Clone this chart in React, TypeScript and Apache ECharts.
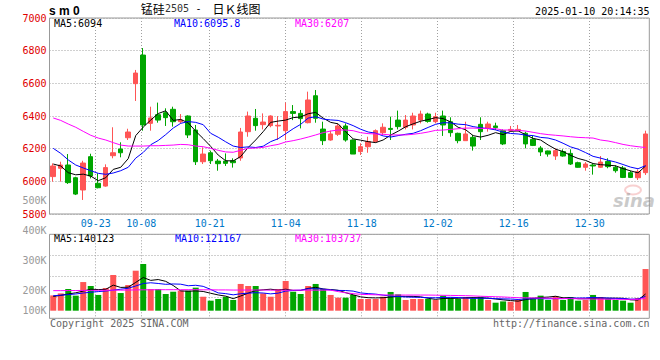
import React, { useEffect, useRef } from 'react';
import * as echarts from 'echarts';

// ---------- data ----------
const dates = ['09-11','09-12','09-13','09-18','09-19','09-20','09-23','09-24','09-25','09-26','09-27','09-30','10-08','10-09','10-10','10-11','10-14','10-15','10-16','10-17','10-18','10-21','10-22','10-23','10-24','10-25','10-28','10-29','10-30','10-31','11-01','11-04','11-05','11-06','11-07','11-08','11-11','11-12','11-13','11-14','11-15','11-18','11-19','11-20','11-21','11-22','11-25','11-26','11-27','11-28','11-29','12-02','12-03','12-04','12-05','12-06','12-09','12-10','12-11','12-12','12-13','12-16','12-17','12-18','12-19','12-20','12-23','12-24','12-25','12-26','12-27','12-30','12-31','01-02','01-03','01-06','01-07','01-08','01-09','01-10'];
const labelDates = ['09-23','10-08','10-21','11-04','11-18','12-02','12-16','12-30'];

const open = [6029,6080,6100,6022,5947,6151,5988,5971,6157,6198, 6267,6598,6773,6355,6408,6420,6441,6365,6400,6314, 6120,6175,6124,6124,6126,6143,6304,6386,6347,6341, 6339,6310,6427,6416,6359,6524,6320,6253,6288,6339, 6253,6182,6212,6243,6298,6324,6375,6331,6345,6375, 6412,6365,6400,6365,6294,6249,6269,6349,6324,6339, 6310,6312,6310,6294,6257,6204,6186,6155,6182,6171, 6114,6086,6100,6086,6122,6086,6082,6053,6022,6053];
const close = [6094,6100,5992,5922,6112,6033,5961,6084,6175,6175, 6302,6663,6345,6388,6375,6390,6365,6375,6284,6120, 6167,6126,6108,6110,6114,6302,6400,6341,6363,6400, 6343,6427,6416,6384,6498,6386,6249,6290,6339,6253, 6167,6212,6243,6310,6331,6318,6335,6375,6400,6412, 6367,6396,6345,6298,6249,6290,6216,6304,6351,6329, 6229,6318,6318,6229,6220,6180,6167,6188,6155,6106, 6086,6106,6094,6118,6090,6065,6024,6024,6059,6290];
const low = [5998,5998,5984,5916,5886,6018,5957,5967,6141,6147, 6253,6492,6310,6310,6359,6339,6335,6355,6265,6100, 6106,6106,6065,6094,6084,6126,6273,6310,6318,6331, 6253,6253,6375,6324,6355,6359,6222,6249,6278,6243, 6167,6161,6175,6237,6284,6253,6318,6318,6318,6355, 6359,6355,6278,6273,6233,6249,6188,6253,6304,6314, 6222,6304,6306,6202,6216,6155,6151,6131,6151,6100, 6084,6065,6041,6082,6080,6053,6020,6020,6008,6039];
const high = [6110,6120,6167,6028,6126,6169,6049,6104,6331,6239, 6322,6682,6816,6457,6482,6447,6457,6412,6404,6345, 6208,6188,6137,6171,6141,6327,6427,6443,6416,6404, 6400,6482,6467,6437,6549,6559,6365,6310,6351,6355, 6257,6233,6273,6318,6355,6396,6433,6406,6420,6433, 6420,6420,6433,6392,6298,6365,6284,6392,6365,6359, 6318,6339,6345,6304,6278,6216,6188,6202,6196,6196, 6120,6118,6110,6155,6141,6098,6094,6065,6073,6310];

const ma5 = [6106,6094,6053,6040,6044,6032,6004,6022,6073,6086, 6139,6280,6332,6375,6415,6432,6373,6379,6358,6307, 6262,6214,6161,6126,6125,6152,6207,6253,6304,6361, 6369,6375,6390,6394,6414,6422,6387,6361,6352,6303, 6260,6252,6243,6237,6253,6283,6307,6334,6352,6368, 6378,6390,6384,6364,6331,6316,6280,6271,6282,6298, 6286,6306,6309,6285,6263,6253,6223,6197,6182,6159, 6140,6128,6109,6102,6099,6095,6078,6064,6052,6094];
const ma10 = [6202,6171,6131,6100,6082,6065,6049,6043,6051,6065, 6086,6142,6177,6224,6250,6286,6326,6355,6366,6361, 6347,6294,6270,6242,6216,6207,6211,6207,6215,6243, 6261,6291,6322,6349,6387,6396,6381,6376,6373,6359, 6341,6319,6302,6295,6278,6271,6280,6288,6294,6310, 6330,6349,6359,6358,6350,6347,6335,6328,6323,6315, 6301,6293,6290,6283,6280,6269,6265,6253,6233,6211, 6197,6176,6153,6142,6129,6118,6103,6087,6077,6095.8];
const ma30 = [6388,6373,6351,6331,6306,6282,6265,6253,6237,6222, 6216,6216,6216,6218,6218,6220,6222,6226,6224,6216, 6212,6202,6190,6180,6178,6190,6202,6204,6208,6218, 6226,6241,6249,6259,6271,6284,6298,6308,6314,6314, 6310,6298,6292,6290,6288,6284,6284,6284,6288,6294, 6302,6312,6314,6318,6322,6326,6326,6324,6324,6322, 6314,6314,6312,6308,6300,6292,6286,6282,6278,6273, 6269,6267,6265,6253,6247,6237,6226,6218,6212,6207];

const volume = [128000,145000,182000,126000,240000,207000,132000,190000,299000,148000, 215000,335000,391000,182000,182000,140000,159000,168000,168000,193000, 117000,84000,98000,117000,90000,224000,207000,207000,145000,117000, 182000,249000,159000,140000,207000,224000,182000,132000,109000,109000, 132000,98000,98000,98000,117000,157000,137000,90000,98000,98000, 98000,90000,126000,109000,98000,115000,103000,117000,90000,67000, 78000,75000,90000,157000,109000,126000,90000,123000,90000,115000, 84000,90000,132000,115000,98000,90000,84000,67000,106000,349000];
const volMa5 = [120000,128000,140000,150000,164000,180000,177000,179000,214000,195000, 197000,237000,278000,254000,261000,246000,211000,166000,163000,166000, 161000,146000,132000,122000,101000,123000,147000,169000,175000,180000, 172000,180000,170000,169000,187000,196000,182000,177000,171000,151000, 133000,116000,109000,107000,109000,114000,121000,120000,120000,116000, 104000,95000,102000,104000,104000,108000,110000,108000,105000,98000, 91000,85000,80000,93000,102000,111000,114000,121000,108000,109000, 100000,100000,102000,107000,104000,105000,104000,91000,89000,140123];
const volMa10 = [125000,130000,135000,140000,148000,155000,160000,165000,172000,180000, 188000,207000,228000,234000,228000,221000,224000,222000,209000,213000, 204000,178000,149000,143000,133000,142000,147000,151000,148000,141000, 147000,164000,170000,172000,184000,184000,181000,174000,170000,169000, 164000,149000,143000,139000,130000,123000,119000,115000,113000,112000, 109000,108000,111000,112000,110000,106000,103000,105000,104000,101000, 99000,98000,94000,99000,100000,101000,100000,101000,101000,105000, 106000,107000,112000,107000,106000,103000,102000,97000,98000,121167];
const volMa30 = [168000,168000,169000,169000,170000,170000,171000,171000,172000,172000, 173000,174000,175000,175000,176000,176000,176000,176000,176000,176000, 175000,175000,174000,174000,173000,173000,173000,173000,173000,172000, 172000,172000,172000,172000,172000,172000,172000,172000,160000,150000, 143000,137000,135000,133000,132000,131000,131000,131000,131000,131000, 131000,130000,129000,128000,127000,126000,124000,121000,119000,117000, 115000,112000,109000,108000,107000,106000,105000,103000,102000,101000, 100000,99000,98000,97000,96000,96000,95000,95000,95000,103737];

const priceMin = 5800;
const priceMax = 7000;
const priceStep = 200;
const volTickLabels = ['100K', '200K', '300K', '400K', '500K'];
const volTickMin = 100000;
const volTickMax = 500000;
const volTickStep = 100000;
const volAxisMax = 640000;

// ---------- styles ----------
const MONO = '"DejaVu Sans Mono", monospace';
const RED = '#FF5555';
const GREEN = '#00A600';
const GRID = '#A0A0A0';
const FRAME = '#999999';
const BLUE_TXT = '#0078C8';
const RED_TXT = '#E00000';

const isLabel = (_i: number, v: string) => labelDates.indexOf(v) >= 0;

function buildOption() {
  const candleData = dates.map((_, i) => [open[i], close[i], low[i], high[i]]);
  const volData = volume.map((v, i) => ({
    value: v,
    itemStyle: { color: close[i] >= open[i] ? RED : GREEN },
  }));

  const hiddenCat = (gridIndex: number) => ({
    type: 'category', gridIndex, data: dates, boundaryGap: true, show: false,
  });
  const lineCat = (gridIndex: number, showLabels: boolean) => ({
    type: 'category', gridIndex, data: dates, boundaryGap: true,
    axisLine: { show: false }, axisTick: { show: false },
    axisLabel: {
      show: showLabels, interval: isLabel, color: BLUE_TXT,
      fontFamily: MONO, fontSize: 10, margin: 4,
    },
    splitLine: {
      show: true, interval: isLabel, alignWithLabel: true,
      lineStyle: { color: GRID, type: [1, 2], width: 1 },
    },
  });
  const hiddenVal = (gridIndex: number) => ({ type: 'value', gridIndex, min: 0, max: 1, show: false });

  const txt = (text: string, x: number, y: number, fill: string, font: string, align = 'left') => ({
    type: 'text', x, y, silent: true,
    style: { text, fill, font, textAlign: align, textVerticalAlign: 'middle' },
  });
  const f10 = `10px ${MONO}`;

  return {
    animation: false,
    backgroundColor: '#ffffff',
    grid: [
      { left: 49.5, right: 10.7, top: 18, height: 196, show: true, borderColor: FRAME, borderWidth: 1 },
      { left: 46.3, right: 5.7, top: 18, height: 196 },
      { left: 49.5, right: 10.7, top: 234.3, height: 84, show: true, borderColor: FRAME, borderWidth: 1 },
      { left: 46.3, right: 5.7, top: 234.3, height: 84 },
      { left: 49.5, right: 10.7, top: 234.3, height: 76.4 },
      { left: 49.5, right: 10.7, top: 200.3, height: 120 },
    ],
    xAxis: [
      hiddenCat(0),
      lineCat(1, true),
      hiddenCat(2),
      lineCat(3, false),
      hiddenCat(4),
      hiddenCat(5),
    ],
    yAxis: [
      {
        type: 'value', gridIndex: 0, min: priceMin, max: priceMax, interval: priceStep,
        axisLine: { show: false }, axisTick: { show: false },
        axisLabel: {
          color: RED_TXT, fontFamily: MONO, fontSize: 10, margin: 3, padding: [0, 0, 3, 0],
          formatter: (v: number) => String(v),
        },
        splitLine: { lineStyle: { color: GRID, type: [1, 2], width: 1 } },
      },
      hiddenVal(1),
      {
        type: 'value', gridIndex: 2, min: 0, max: 4, interval: 1,
        axisLine: { show: false }, axisTick: { show: false }, axisLabel: { show: false },
        splitLine: { lineStyle: { color: GRID, type: [1, 2], width: 1 } },
      },
      hiddenVal(3),
      { type: 'value', gridIndex: 4, min: 0, max: volAxisMax, show: false },
      {
        type: 'value', gridIndex: 5, min: volTickMin, max: volTickMax, interval: volTickStep,
        axisLine: { show: false }, axisTick: { show: false }, splitLine: { show: false },
        axisLabel: {
          color: '#999999', fontFamily: MONO, fontSize: 10, margin: 3,
          formatter: (v: number) => {
            const k = volTickLabels[Math.round(v / volTickStep) - 1] || '';
            return v === volTickMin ? `{up|${k}}` : k;
          },
          rich: { up: { padding: [0, 0, 20, 0], color: '#999999', fontFamily: MONO, fontSize: 10 } },
        },
      },
    ],
    series: [
      {
        type: 'candlestick', xAxisIndex: 0, yAxisIndex: 0, data: candleData, barWidth: 5,
        itemStyle: { color: RED, color0: GREEN, borderColor: RED, borderColor0: GREEN, borderWidth: 1 },
      },
      { type: 'line', xAxisIndex: 0, yAxisIndex: 0, data: ma5, symbol: 'none', lineStyle: { color: '#000000', width: 1 } },
      { type: 'line', xAxisIndex: 0, yAxisIndex: 0, data: ma10, symbol: 'none', lineStyle: { color: '#0000FF', width: 1 } },
      { type: 'line', xAxisIndex: 0, yAxisIndex: 0, data: ma30, symbol: 'none', lineStyle: { color: '#FF00FF', width: 1 } },
      { type: 'bar', xAxisIndex: 4, yAxisIndex: 4, data: volData, barWidth: 6 },
      { type: 'line', xAxisIndex: 4, yAxisIndex: 4, data: volMa5, symbol: 'none', lineStyle: { color: '#000000', width: 1 } },
      { type: 'line', xAxisIndex: 4, yAxisIndex: 4, data: volMa10, symbol: 'none', lineStyle: { color: '#0000FF', width: 1 } },
      { type: 'line', xAxisIndex: 4, yAxisIndex: 4, data: volMa30, symbol: 'none', lineStyle: { color: '#FF00FF', width: 1 } },
    ],
    graphic: [
      txt('s m 0', 49, 11, '#000000', 'bold 12px "Liberation Sans"'),
      txt('锰硅', 140.7, 8.5, '#000000', '12px "Noto Sans CJK SC"'),
      txt('2505', 165, 8.5, '#333333', f10),
      txt('-', 195.5, 8.5, '#000000', f10),
      txt('日Ｋ线图', 212.5, 8.5, '#000000', '12px "Noto Sans CJK SC"'),
      txt('2025-01-10 20:14:35', 649.5, 11, '#000000', f10, 'right'),
      txt('MA5:' + ma5[ma5.length - 1], 54, 23.7, '#000000', f10),
      txt('MA10:' + ma10[ma10.length - 1], 174, 23.7, '#0000FF', f10),
      txt('MA30:' + ma30[ma30.length - 1], 295, 23.7, '#FF00FF', f10),
      txt('MA5:' + volMa5[volMa5.length - 1], 54, 238.3, '#000000', f10),
      txt('MA10:' + volMa10[volMa10.length - 1], 175, 238.3, '#0000FF', f10),
      txt('MA30:' + volMa30[volMa30.length - 1], 295, 238.3, '#FF00FF', f10),
      txt('Copyright 2025 SINA.COM', 50, 323.5, '#666666', f10),
      txt('http://finance.sina.com.cn', 649.5, 323.5, '#666666', f10, 'right'),
      {
        type: 'ellipse', silent: true,
        shape: { cx: 633, cy: 190, rx: 8, ry: 4.5 },
        style: { fill: 'none', stroke: 'rgba(235,120,120,0.35)', lineWidth: 2 },
      },
      txt('sina', 634, 200.5, 'rgba(150,150,150,0.5)', 'italic bold 18px "DejaVu Sans"', 'center'),
    ],
  };
}

export default function App() {
  const ref = useRef<HTMLDivElement>(null);
  useEffect(() => {
    if (!ref.current) return;
    const chart = echarts.init(ref.current, undefined, { renderer: 'svg' });
    chart.setOption(buildOption() as any);
    return () => chart.dispose();
  }, []);
  return (
    <div
      ref={ref}
      style={{ position: 'fixed', left: 0, top: 0, width: 660, height: 360, background: '#fff' }}
    />
  );
}
